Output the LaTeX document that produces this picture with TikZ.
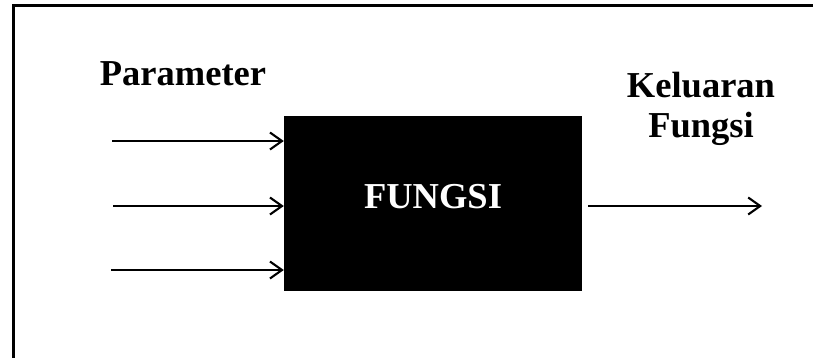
\documentclass[tikz,border=0pt]{standalone}
\usepackage{fontspec}
\setmainfont{Liberation Serif}
\usetikzlibrary{arrows.meta}
\tikzset{
  lbl/.style={font=\fontsize{36.5}{40}\selectfont\bfseries, inner sep=0pt, align=center},
  flow/.style={line width=2.1pt, -{Straight Barb[length=12pt,width=17pt,line width=2.1pt]}},
  fnbox/.style={fill=black, draw=none, minimum width=298pt, minimum height=175pt, inner sep=0pt}
}
\begin{document}
\begin{tikzpicture}[x=1pt,y=-1pt]
  \clip (0,0) rectangle (813,357);
  \fill[white] (0,0) rectangle (813,357);
  % outer frame (runs past the right and bottom edges)
  \draw[line width=2.2pt] (13.5,5.5) rectangle (840,380);
  % function block
  \node[fnbox] (fn) at (433,203.5) {};
  \node[lbl, text=white, anchor=base] (fnlabel) at (433,208) {FUNGSI};
  % input arrows
  \coordinate (in1) at (112,141);
  \coordinate (in2) at (113,206);
  \coordinate (in3) at (111,270);
  \draw[flow] (in1) -- (in1 -| fn.west);
  \draw[flow] (in2) -- (in2 -| fn.west);
  \draw[flow] (in3) -- (in3 -| fn.west);
  % output arrow
  \coordinate (out) at (762,206);
  \draw[flow] (fn.east |- out) ++(6,0) -- (out);
  % labels
  \node[lbl, anchor=base] (param) at (183,85) {Parameter};
  \node[lbl, anchor=base] (kel) at (701,97) {Keluaran};
  \node[lbl, anchor=base] (fng) at (701,137) {Fungsi};
\end{tikzpicture}
\end{document}
